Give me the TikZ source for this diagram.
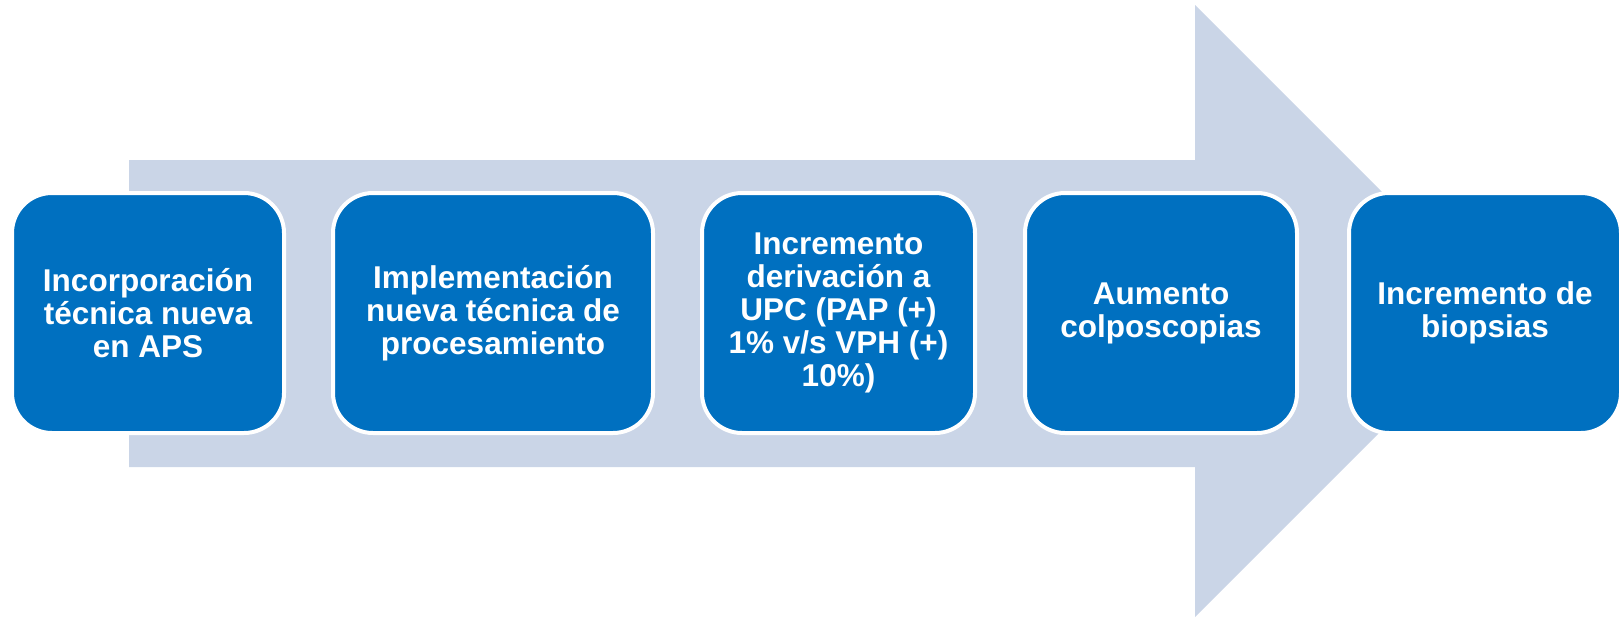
\documentclass[tikz,border=0pt]{standalone}
\usepackage{fontspec}
\setmainfont{Liberation Sans}
\definecolor{boxblue}{HTML}{0070C0}
\definecolor{arrowgray}{HTML}{CAD5E7}
\begin{document}
\begin{tikzpicture}[x=1pt,y=-1pt,
  stepbox/.style={draw=white, line width=4pt, fill=boxblue, rounded corners=40pt,
    minimum height=240pt, text=white, align=center, inner sep=0pt,
    font=\fontsize{31.5}{33}\selectfont\bfseries}]
\useasboundingbox (0,0) rectangle (1619,621);
\clip (0,0) rectangle (1619,621);
\fill[arrowgray] (129,160) -- (1195,160) -- (1195,5) -- (1501,311) -- (1195,617) -- (1195,467) -- (129,467) -- cycle;
\node[stepbox, minimum width=272pt] (b1) at (148,313) {Incorporación\\técnica nueva\\en APS};
\node[stepbox, minimum width=320pt] (b2) at (493,313) {Implementación\\nueva técnica de\\procesamiento};
\node[stepbox, minimum width=273pt] (b3) at (838.5,313) {Incremento\\derivación a\\UPC (PAP (+)\\1\% v/s VPH (+)\\10\%)};
\node[stepbox, minimum width=272pt] (b4) at (1161,313) {Aumento\\colposcopias};
\node[stepbox, minimum width=272pt] (b5) at (1485,313) {Incremento de\\biopsias};
\end{tikzpicture}
\end{document}
